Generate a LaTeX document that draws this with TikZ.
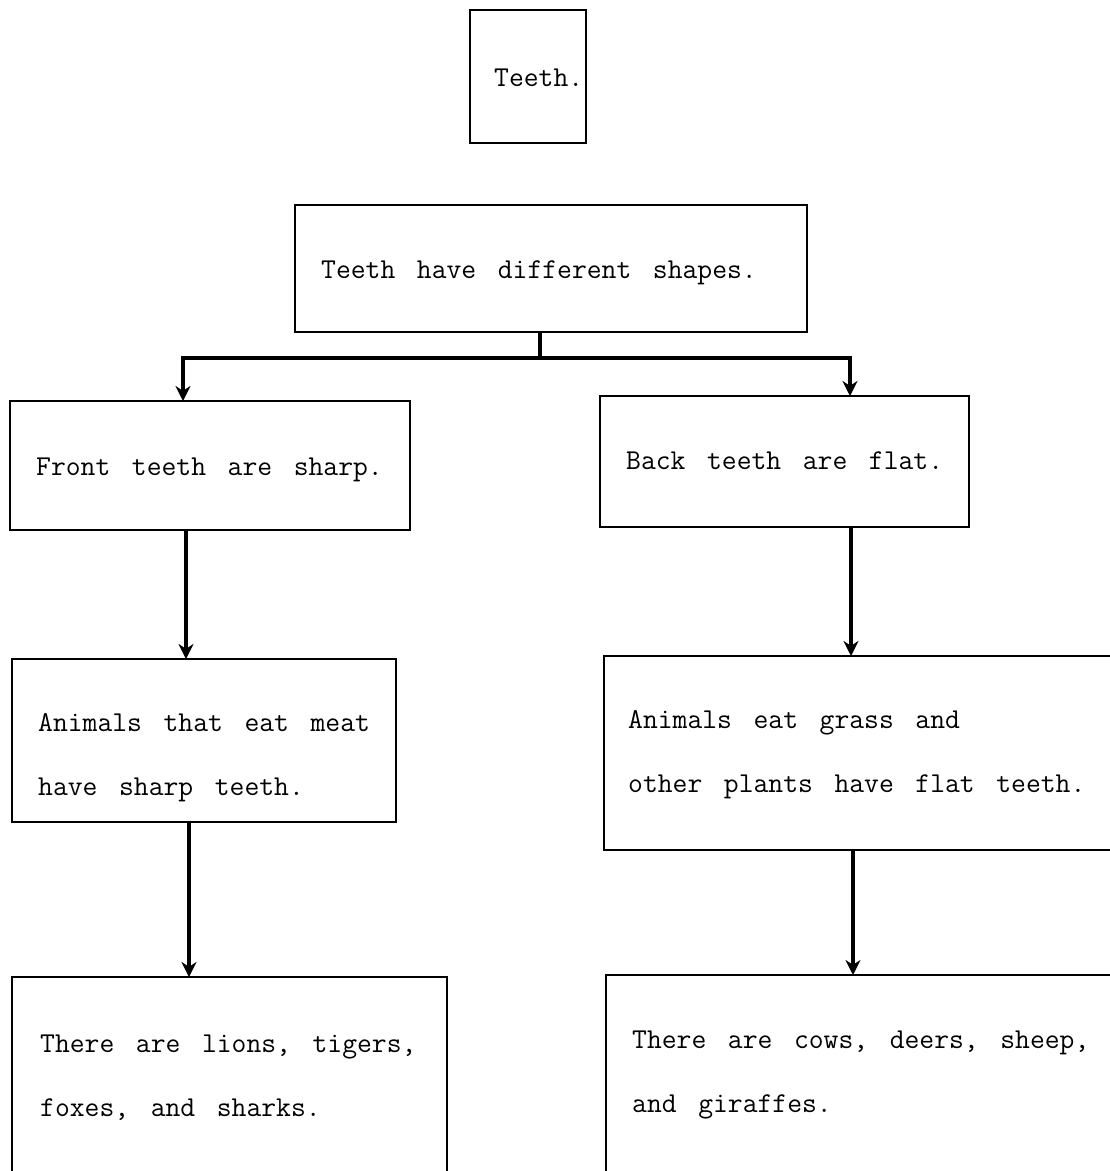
\documentclass[tikz,border=0pt]{standalone}
\usepackage{fontspec}
\usetikzlibrary{arrows.meta}
\newcommand\boxtextfont{\ttfamily\fontsize{28.8}{64}\selectfont\addfontfeatures{FakeBold=0.9}\setlength{\spaceskip}{0.75em}}
\begin{document}
\begin{tikzpicture}[x=1pt,y=-1pt,
  box/.style={draw,line width=2.2pt,inner sep=0pt,outer sep=0pt},
  txt/.style={anchor=base west,inner sep=0pt,align=left,font=\boxtextfont},
  conn/.style={line width=3.2pt},
  arr/.style={line width=3.2pt,-{Stealth[length=15pt,width=15pt]}}]
\useasboundingbox (0,0) rectangle (1110,1171);
\clip (0,0) rectangle (1110,1171);
% boxes
\node[box,minimum width=116pt,minimum height=133pt] (b1) at (528,76.5) {};
\node[box,minimum width=512pt,minimum height=127pt] (b2) at (551,268.5) {};
\node[box,minimum width=400pt,minimum height=129pt] (b3) at (210,465.5) {};
\node[box,minimum width=369pt,minimum height=131pt] (b4) at (784.5,461.5) {};
\node[box,minimum width=384pt,minimum height=163pt] (b5) at (204,740.5) {};
\node[box,minimum width=521pt,minimum height=194pt] (b6) at (864.5,753) {};
\node[box,minimum width=435pt,minimum height=213pt] (b7) at (229.5,1083.5) {};
\node[box,minimum width=519pt,minimum height=215pt] (b8) at (865.5,1082.5) {};
% texts (base anchor = baseline of last line)
\node[txt] (t1) at (494,86) {Teeth.};
\node[txt] (t2) at (321,278) {Teeth have different shapes.};
\node[txt] (t3) at (36,475) {Front teeth are sharp.};
\node[txt] (t4) at (626,469) {Back teeth are flat.};
\node[txt] (t5) at (38,795) {Animals that eat meat\\have sharp teeth.};
\node[txt] (t6) at (628,792) {Animals eat grass and\\other plants have flat teeth.};
\node[txt] (t7) at (40,1116) {There are lions, tigers,\\foxes, and sharks.};
\node[txt] (t8) at (632,1112) {There are cows, deers, sheep,\\and giraffes.};
% connector points
\coordinate (bus) at (540,358);
\coordinate (jl) at (183,358);
\coordinate (jr) at (850,358);
\coordinate (c35) at (186,0);
\coordinate (c46) at (851,0);
\coordinate (c57) at (189,0);
\coordinate (c68) at (853,0);
% connectors
\draw[conn] (b2.south -| bus) -- (bus);
\draw[arr] (bus) -- (jl) -- (jl |- b3.north);
\draw[arr] (bus) -- (jr) -- (jr |- b4.north);
\draw[arr] (b3.south -| c35) -- (b5.north -| c35);
\draw[arr] (b4.south -| c46) -- (b6.north -| c46);
\draw[arr] (b5.south -| c57) -- (b7.north -| c57);
\draw[arr] (b6.south -| c68) -- (b8.north -| c68);
\end{tikzpicture}
\end{document}
